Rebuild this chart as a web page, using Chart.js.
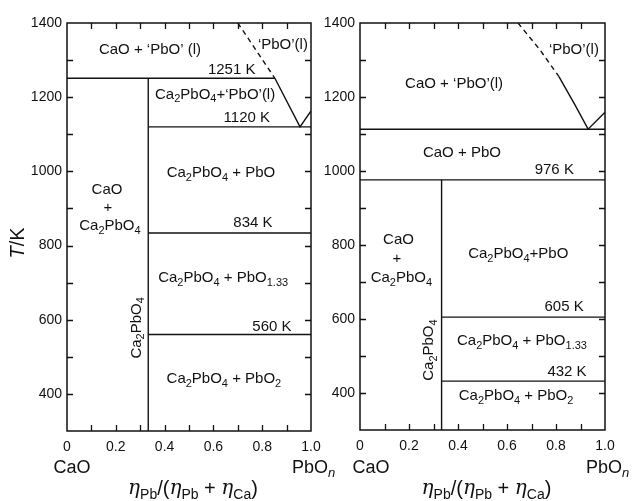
<!DOCTYPE html>
<html>
<head>
<meta charset="utf-8">
<script src="https://cdn.jsdelivr.net/npm/chart.js@4/dist/chart.umd.min.js"></script>
<style>
  html, body { margin: 0; padding: 0; background: #fff; }
  #wrap { position: relative; width: 632px; height: 501px; overflow: hidden; }
  #c1 { position: absolute; left: 0; top: 0; }
  #c2 { position: absolute; left: 300px; top: 0; }
</style>
</head>
<body>
<div id="wrap">
  <canvas id="c1" width="345" height="501"></canvas>
  <canvas id="c2" width="332" height="501"></canvas>
</div>
<script>
// x = n(Pb)/(n(Pb)+n(Ca)), y = T/K
const xTickLabels = ['0', '0.2', '0.4', '0.6', '0.8', '1.0'];

// left diagram
const left1251 = [[0, 1251], [0.852, 1251]];
const leftLiqDashed = [[0.70, 1400], [0.852, 1251]];
const leftLiqSolid = [[0.852, 1251], [0.955, 1120], [1.0, 1163]];
const leftCa2PbO4 = [[0.333, 300], [0.333, 1251]];
const left1120 = [[0.333, 1120], [1.0, 1120]];
const left834 = [[0.333, 834], [1.0, 834]];
const left560 = [[0.333, 560], [1.0, 560]];

// right diagram
const right1113 = [[0, 1113], [1.0, 1113]];
const right976 = [[0, 976], [1.0, 976]];
const rightCa2PbO4 = [[0.333, 300], [0.333, 976]];
const right605 = [[0.333, 605], [1.0, 605]];
const right432 = [[0.333, 432], [1.0, 432]];
const rightLiqDashed = [[0.645, 1400], [0.735, 1327], [0.812, 1255]];
const rightLiqSolid = [[0.812, 1255], [0.878, 1178], [0.931, 1113], [1.0, 1159]];

// phase field labels (x, T)
const leftLabels = [
  { text: 'CaO + ‘PbO’ (l)', x: 0.34, y: 1327 },
  { text: '‘PbO’(l)', x: 0.885, y: 1341 },
  { text: '1251 K', x: 0.675, y: 1275 },
  { text: 'Ca_{2}PbO_{4}+‘PbO’(l)', x: 0.607, y: 1207 },
  { text: '1120 K', x: 0.737, y: 1144 },
  { text: 'Ca_{2}PbO_{4} + PbO', x: 0.631, y: 995 },
  { text: 'CaO', x: 0.164, y: 950 },
  { text: '+', x: 0.168, y: 901 },
  { text: 'Ca_{2}PbO_{4}', x: 0.176, y: 852 },
  { text: '834 K', x: 0.762, y: 861 },
  { text: 'Ca_{2}PbO_{4} + PbO_{1.33}', x: 0.64, y: 712 },
  { text: 'Ca_{2}PbO_{4}', x: 0.285, y: 578, rot: true },
  { text: '560 K', x: 0.84, y: 580 },
  { text: 'Ca_{2}PbO_{4} + PbO_{2}', x: 0.643, y: 440 }
];
const rightLabels = [
  { text: 'CaO + ‘PbO’(l)', x: 0.384, y: 1235 },
  { text: '‘PbO’(l)', x: 0.873, y: 1327 },
  { text: 'CaO + PbO', x: 0.416, y: 1049 },
  { text: '976 K', x: 0.793, y: 1003 },
  { text: 'CaO', x: 0.157, y: 813 },
  { text: '+', x: 0.151, y: 762 },
  { text: 'Ca_{2}PbO_{4}', x: 0.169, y: 710 },
  { text: 'Ca_{2}PbO_{4}+PbO', x: 0.646, y: 775 },
  { text: '605 K', x: 0.833, y: 632 },
  { text: 'Ca_{2}PbO_{4} + PbO_{1.33}', x: 0.661, y: 540 },
  { text: 'Ca_{2}PbO_{4}', x: 0.281, y: 516, rot: true },
  { text: '432 K', x: 0.845, y: 457 },
  { text: 'Ca_{2}PbO_{4} + PbO_{2}', x: 0.637, y: 392 }
];

const INK = '#111';
const SANS = '"Liberation Sans", Arial, sans-serif';
Chart.defaults.font.family = SANS;
Chart.defaults.color = INK;

function parseRich(str) {
  const segs = [];
  const re = /_\{([^}]*)\}/g;
  let last = 0, m;
  while ((m = re.exec(str)) !== null) {
    if (m.index > last) segs.push({ t: str.slice(last, m.index) });
    segs.push({ t: m[1], sub: true });
    last = re.lastIndex;
  }
  if (last < str.length) segs.push({ t: str.slice(last) });
  return segs;
}

function segFont(s, size) {
  const sz = s.sub ? Math.round(size * 0.72) : size;
  const fam = s.serif ? '"DejaVu Serif", serif' : SANS;
  return (s.it ? 'italic ' : '') + sz + 'px ' + fam;
}

// draws segments centred (or left aligned) on x, y = middle of main text
function drawSegs(ctx, segs, x, y, size, align) {
  let w = 0;
  segs.forEach(s => { ctx.font = segFont(s, size); s.w = ctx.measureText(s.t).width; w += s.w; });
  let cx = align === 'left' ? x : x - w / 2;
  ctx.textAlign = 'left';
  ctx.textBaseline = 'middle';
  segs.forEach(s => {
    ctx.font = segFont(s, size);
    ctx.fillText(s.t, cx, y + (s.sub ? size * 0.32 : 0));
    cx += s.w;
  });
}

const xTitle = [
  { t: 'η', it: true, serif: true }, { t: 'Pb', sub: true }, { t: '/(' },
  { t: 'η', it: true, serif: true }, { t: 'Pb', sub: true }, { t: ' + ' },
  { t: 'η', it: true, serif: true }, { t: 'Ca', sub: true }, { t: ')' }
];

function lineDs(points, dashed) {
  return {
    data: points.map(p => ({ x: p[0], y: p[1] })),
    showLine: true,
    borderColor: INK,
    borderWidth: 1.4,
    borderDash: dashed ? [5, 4] : [],
    pointRadius: 0,
    fill: false
  };
}

const decorPlugin = {
  id: 'decor',
  afterDatasetsDraw(chart, args, o) {
    const ctx = chart.ctx;
    const a = chart.chartArea;
    const xs = chart.scales.x, ys = chart.scales.y;
    ctx.save();
    ctx.strokeStyle = INK;
    ctx.fillStyle = INK;
    ctx.lineWidth = 1.5;
    ctx.strokeRect(a.left, a.top, a.right - a.left, a.bottom - a.top);

    // inward ticks on all four sides
    ctx.lineWidth = 1.3;
    ctx.beginPath();
    xs.ticks.forEach((t, i) => {
      if (i === 0 || i === xs.ticks.length - 1) return;
      const px = Math.round(xs.getPixelForValue(t.value)) + 0.5;
      ctx.moveTo(px, a.bottom); ctx.lineTo(px, a.bottom - 6);
      ctx.moveTo(px, a.top); ctx.lineTo(px, a.top + 6);
    });
    ys.ticks.forEach((t, i) => {
      if (i === 0 || i === ys.ticks.length - 1) return;
      const py = Math.round(ys.getPixelForValue(t.value)) + 0.5;
      ctx.moveTo(a.left, py); ctx.lineTo(a.left + 6, py);
      ctx.moveTo(a.right, py); ctx.lineTo(a.right - 6, py);
    });
    ctx.stroke();

    // phase field labels
    o.labels.forEach(l => {
      const px = xs.getPixelForValue(l.x), py = ys.getPixelForValue(l.y);
      const segs = parseRich(l.text);
      if (l.rot) {
        ctx.save();
        ctx.translate(px, py);
        ctx.rotate(-Math.PI / 2);
        drawSegs(ctx, segs, 0, 0, 15, 'center');
        ctx.restore();
      } else {
        drawSegs(ctx, segs, px, py, 15, 'center');
      }
    });

    // end member names and axis titles
    const x0 = xs.getPixelForValue(0), x1 = xs.getPixelForValue(1);
    drawSegs(ctx, [{ t: 'CaO' }], x0 + o.caoShift, 468, 18, 'center');
    drawSegs(ctx, [{ t: 'PbO' }, { t: 'n', sub: true, it: true }], x1 - 19, 468, 18, 'left');
    drawSegs(ctx, xTitle, (a.left + a.right) / 2 + 4, 489, 20, 'center');
    if (o.yTitle) {
      ctx.save();
      ctx.translate(18, 243);
      ctx.rotate(-Math.PI / 2);
      drawSegs(ctx, [{ t: 'T', it: true }, { t: '/K' }], 0, 0, 20, 'center');
      ctx.restore();
    }
    ctx.restore();
  }
};

function makeDiagram(id, datasets, opts) {
  return new Chart(document.getElementById(id), {
    type: 'scatter',
    data: { datasets: datasets },
    options: {
      responsive: false,
      animation: false,
      layout: { padding: { top: 23, right: opts.padRight, left: 0, bottom: 0 } },
      plugins: {
        legend: { display: false },
        tooltip: { enabled: false },
        decor: { labels: opts.labels, caoShift: opts.caoShift, yTitle: opts.yTitle }
      },
      scales: {
        x: {
          type: 'linear', min: 0, max: 1,
          grid: { display: false, drawTicks: false },
          border: { display: false },
          ticks: {
            stepSize: 0.1, autoSkip: false, maxRotation: 0, padding: 8,
            font: { size: 14 }, color: INK,
            callback: (v, i) => (i % 2 === 0 ? xTickLabels[i / 2] : '')
          },
          afterFit: s => { s.height = opts.xHeight; }
        },
        y: {
          type: 'linear', min: 300, max: 1400,
          grid: { display: false, drawTicks: false },
          border: { display: false },
          ticks: {
            stepSize: 100, autoSkip: false, padding: 5,
            font: { size: 14 }, color: INK,
            callback: v => (v % 200 === 0 ? String(v) : '')
          },
          afterFit: s => { s.width = opts.yWidth; }
        }
      }
    },
    plugins: [decorPlugin]
  });
}

makeDiagram('c1', [
  lineDs(left1251), lineDs(leftLiqDashed, true), lineDs(leftLiqSolid),
  lineDs(leftCa2PbO4), lineDs(left1120), lineDs(left834), lineDs(left560)
], { labels: leftLabels, padRight: 34, xHeight: 70, yWidth: 67, caoShift: 5, yTitle: true });

makeDiagram('c2', [
  lineDs(right1113), lineDs(right976), lineDs(rightCa2PbO4),
  lineDs(right605), lineDs(right432), lineDs(rightLiqDashed, true), lineDs(rightLiqSolid)
], { labels: rightLabels, padRight: 27, xHeight: 71, yWidth: 60, caoShift: 11, yTitle: false });
</script>
</body>
</html>
